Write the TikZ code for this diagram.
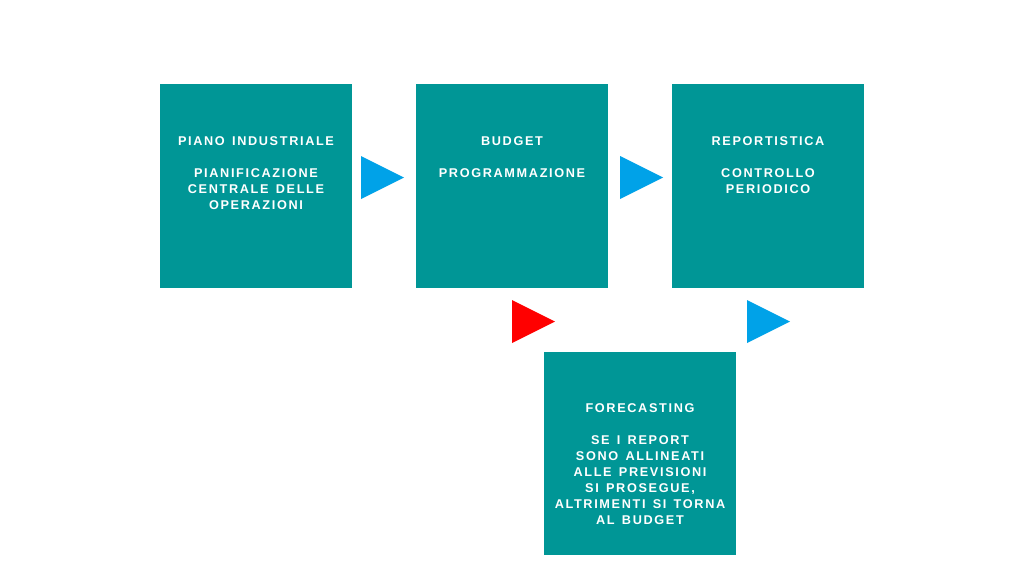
\documentclass[tikz,border=0pt]{standalone}
\usepackage{fontspec}
\setmainfont{Liberation Sans}[LetterSpace=13,WordSpace=1.4]
\definecolor{teal1}{RGB}{0,150,150}
\definecolor{blue1}{RGB}{0,162,232}
\definecolor{red1}{RGB}{255,0,0}
\begin{document}
\begin{tikzpicture}[x=1pt,y=-1pt,
  box/.style={fill=teal1,draw=none},
  txt/.style={anchor=north,inner sep=0pt,align=center,text=white,font=\bfseries\fontsize{12.7}{16}\selectfont},
  tri/.style={fill=#1,draw=none}]
\useasboundingbox (0,0) rectangle (1024,576);
\fill[white] (0,0) rectangle (1024,576);
% boxes
\fill[box] (160,84) rectangle (352,288);
\fill[box] (416,84) rectangle (608,288);
\fill[box] (672,84) rectangle (864,288);
\fill[box] (544,352) rectangle (736,555);
\node[txt] (t1) at (256,136.5) {PIANO INDUSTRIALE\\[16pt]PIANIFICAZIONE\\CENTRALE DELLE\\OPERAZIONI};
\node[txt] (t2) at (512,136.5) {BUDGET\\[16pt]PROGRAMMAZIONE};
\node[txt] (t3) at (768,136.5) {REPORTISTICA\\[16pt]CONTROLLO\\PERIODICO};
\node[txt] (t4) at (640,403.5) {FORECASTING\\[16pt]SE I REPORT\\SONO ALLINEATI\\ALLE PREVISIONI\\SI PROSEGUE,\\ALTRIMENTI SI TORNA\\AL BUDGET};
% triangles
\fill[tri=blue1] (361,156) -- (404,177.5) -- (361,199) -- cycle;
\fill[tri=blue1] (620,156) -- (663,177.5) -- (620,199) -- cycle;
\fill[tri=red1] (512,300) -- (555,321.5) -- (512,343) -- cycle;
\fill[tri=blue1] (747,300) -- (790,321.5) -- (747,343) -- cycle;
\end{tikzpicture}
\end{document}
